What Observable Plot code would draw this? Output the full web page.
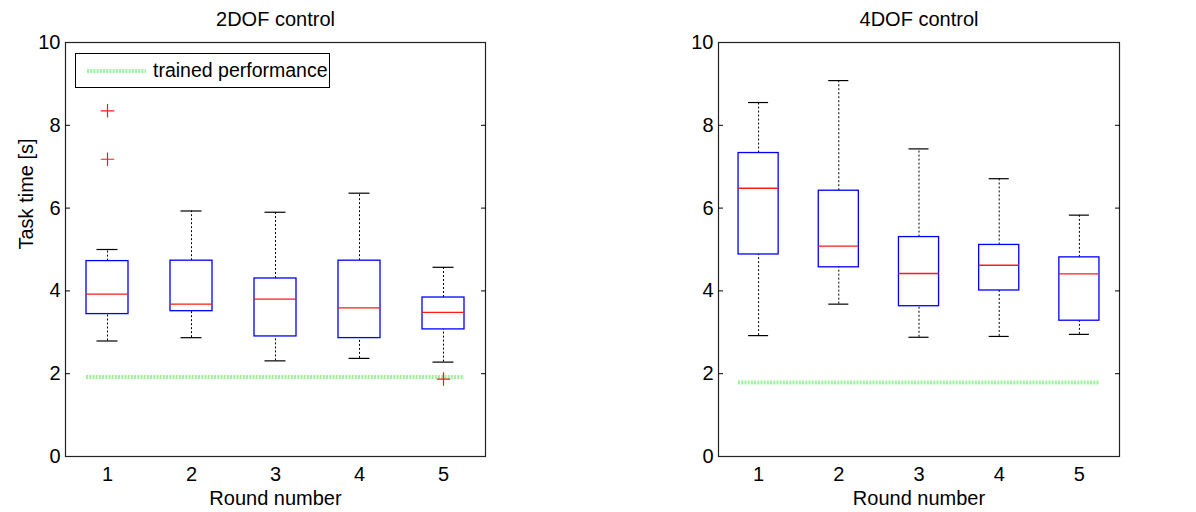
<!DOCTYPE html>
<html>
<head>
<meta charset="utf-8">
<script src="https://cdn.jsdelivr.net/npm/d3@7"></script>
<script src="https://cdn.jsdelivr.net/npm/@observablehq/plot@0.6"></script>
<style>
  body { margin: 0; background: #fff; }
  #wrap { position: relative; width: 1196px; height: 512px; font-family: "Liberation Sans", Arial, sans-serif; color: #000; }
  .panel { position: absolute; top: 0; }
  .legend { position: absolute; box-sizing: border-box; border: 1px solid #000; background: #fff; font-size: 19.5px; }
  .legend svg { position: absolute; left: 0; top: 0; }
  .legend span { position: absolute; left: 77px; top: 5px; white-space: nowrap; }
</style>
</head>
<body>
<div id="wrap"></div>
<script>
// ---- data ----
const rounds = [1, 2, 3, 4, 5];
const yTicks = [0, 2, 4, 6, 8, 10];

// 2DOF control
const dof2Lower  = [2.79, 2.87, 2.31, 2.37, 2.28];
const dof2Q1     = [3.44, 3.51, 2.90, 2.86, 3.07];
const dof2Median = [3.92, 3.68, 3.80, 3.59, 3.48];
const dof2Q3     = [4.72, 4.73, 4.30, 4.73, 3.84];
const dof2Upper  = [5.00, 5.93, 5.90, 6.36, 4.57];
const dof2OutlierRound = [1, 1, 5];
const dof2OutlierValue = [8.35, 7.18, 1.87];
const dof2Trained = 1.92;

// 4DOF control
const dof4Lower  = [2.92, 3.68, 2.88, 2.90, 2.95];
const dof4Q1     = [4.88, 4.57, 3.63, 4.01, 3.28];
const dof4Median = [6.48, 5.08, 4.42, 4.62, 4.41];
const dof4Q3     = [7.33, 6.42, 5.30, 5.11, 4.81];
const dof4Upper  = [8.55, 9.08, 7.43, 6.71, 5.83];
const dof4OutlierRound = [];
const dof4OutlierValue = [];
const dof4Trained = 1.79;

const titles = ["2DOF control", "4DOF control"];
const xLabel = "Round number";
const yLabel = "Task time [s]";
const legendLabel = "trained performance";

// ---- style ----
const FONT = "'Liberation Sans', Arial, sans-serif";
const FS = 20;
const BLUE = "#0000ff", RED = "#ff1a1a", GREEN = "#9df29d";
const HALF_BOX = 0.25, HALF_CAP = 0.125;

function panel({title, lower, q1, median, q3, upper, outRound, outValue, trained, showYLabel, marginLeft, marginRight}) {
  const rows = rounds.map((r, i) => ({round: r, lower: lower[i], q1: q1[i], median: median[i], q3: q3[i], upper: upper[i]}));
  const outliers = outRound.map((r, i) => ({round: r, value: outValue[i]}));
  const trainedRow = [{x1: d3.min(rounds) - HALF_BOX, x2: d3.max(rounds) + HALF_BOX, y: trained}];
  const marks = [
    // whiskers
    Plot.ruleX(rows, {x: "round", y1: "q3", y2: "upper", stroke: "#000", strokeWidth: 1, strokeDasharray: "2,2"}),
    Plot.ruleX(rows, {x: "round", y1: "lower", y2: "q1", stroke: "#000", strokeWidth: 1, strokeDasharray: "2,2"}),
    // caps
    Plot.ruleY(rows, {y: "upper", x1: d => d.round - HALF_CAP, x2: d => d.round + HALF_CAP, stroke: "#000", strokeWidth: 1.2}),
    Plot.ruleY(rows, {y: "lower", x1: d => d.round - HALF_CAP, x2: d => d.round + HALF_CAP, stroke: "#000", strokeWidth: 1.2}),
    // boxes
    Plot.rect(rows, {x1: d => d.round - HALF_BOX, x2: d => d.round + HALF_BOX, y1: "q1", y2: "q3", fill: "none", stroke: BLUE, strokeWidth: 1.3}),
    // medians
    Plot.ruleY(rows, {y: "median", x1: d => d.round - HALF_BOX, x2: d => d.round + HALF_BOX, stroke: RED, strokeWidth: 1.3}),
    // trained performance
    Plot.ruleY(trainedRow, {y: "y", x1: "x1", x2: "x2", stroke: GREEN, strokeWidth: 4, strokeDasharray: "2,1.2"}),
    // outliers
    Plot.dot(outliers, {x: "round", y: "value", symbol: "plus", r: 4.4, stroke: RED, strokeWidth: 1.2}),
    // frame and axes
    Plot.frame({stroke: "#222", strokeWidth: 1.2}),
    Plot.axisY({ticks: yTicks, tickSize: 0, tickPadding: 5, label: null, fontSize: FS}),
    Plot.axisY({anchor: "left", ticks: [2, 4, 6, 8], tickSize: -5, tickFormat: () => "", label: null}),
    Plot.axisY({anchor: "right", ticks: [2, 4, 6, 8], tickSize: -5, tickFormat: () => "", label: null}),
    Plot.axisX({ticks: rounds, tickSize: 0, tickPadding: 10, tickFormat: d3.format("d"), label: null, fontSize: FS}),
    Plot.text([title], {frameAnchor: "top", dy: -22.5, lineAnchor: "middle", fontSize: FS}),
    Plot.text([xLabel], {frameAnchor: "bottom", dy: 42, lineAnchor: "middle", fontSize: FS})
  ];
  if (showYLabel) marks.push(Plot.text([yLabel], {frameAnchor: "left", dx: -39, rotate: -90, lineAnchor: "middle", fontSize: FS}));
  return Plot.plot({
    width: 598, height: 512,
    marginLeft, marginRight, marginTop: 42, marginBottom: 56,
    x: {domain: [0.5, 5.5]},
    y: {domain: [0, 10]},
    style: {fontFamily: FONT, fontSize: FS + "px", background: "transparent", color: "#000", overflow: "visible"},
    marks
  });
}

const wrap = document.getElementById("wrap");
const left = panel({title: titles[0], lower: dof2Lower, q1: dof2Q1, median: dof2Median, q3: dof2Q3, upper: dof2Upper,
  outRound: dof2OutlierRound, outValue: dof2OutlierValue, trained: dof2Trained, showYLabel: true, marginLeft: 65, marginRight: 113});
left.classList.add("panel"); left.style.left = "0px";
wrap.appendChild(left);

const right = panel({title: titles[1], lower: dof4Lower, q1: dof4Q1, median: dof4Median, q3: dof4Q3, upper: dof4Upper,
  outRound: dof4OutlierRound, outValue: dof4OutlierValue, trained: dof4Trained, showYLabel: false, marginLeft: 120, marginRight: 77});
right.classList.add("panel"); right.style.left = "598px";
wrap.appendChild(right);

// legend (inside left panel)
const leg = document.createElement("div");
leg.className = "legend";
Object.assign(leg.style, {left: "75px", top: "53px", width: "255px", height: "35px"});
leg.innerHTML = `<svg width="255" height="35"><line x1="11" x2="70" y1="17" y2="17" stroke="${GREEN}" stroke-width="4" stroke-dasharray="2,1.2"/></svg><span>${legendLabel}</span>`;
wrap.appendChild(leg);
</script>
</body>
</html>
